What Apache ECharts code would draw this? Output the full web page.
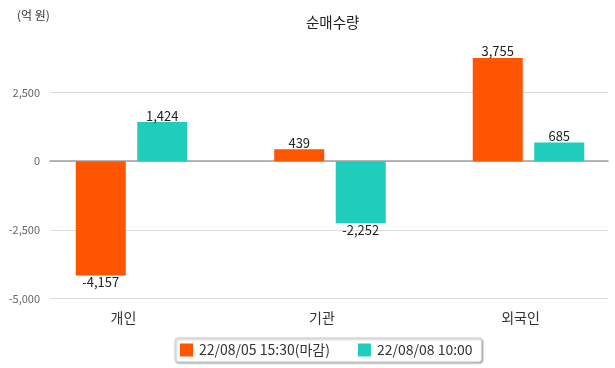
<!DOCTYPE html>
<html>
<head>
<meta charset="utf-8">
<script src="https://cdn.jsdelivr.net/npm/echarts@6/dist/echarts.min.js"></script>
<style>
html,body{margin:0;padding:0;background:#fff;}
#chart{width:615px;height:368px;}
</style>
</head>
<body>
<div id="chart"></div>
<script>
var categories = ['개인', '기관', '외국인'];
var seriesNames = ['22/08/05 15:30(마감)', '22/08/08 10:00'];
var closeValues = [-4157, 439, 3755];
var nowValues = [1424, -2252, 685];
var yTicks = [-5000, -2500, 0, 2500];

var FONT = '"Noto Sans CJK KR", "Noto Sans", sans-serif';
var colors = ['#ff5400', '#1fcdbc'];

function fmt(v) { return v.toLocaleString('en-US'); }
function items(vals) {
  return vals.map(function (v) {
    return { value: v, label: { position: v < 0 ? 'bottom' : 'top' } };
  });
}

var gridTop = 37.5, gridBottom = 69.3;
var chart = echarts.init(document.getElementById('chart'), null, { renderer: 'canvas' });
chart.setOption({
  animation: false,
  textStyle: { fontFamily: FONT },
  title: [
    { text: '순매수량', left: 301, top: 10, textStyle: { fontFamily: FONT, fontSize: 14.5, fontWeight: 'normal', color: '#222' } },
    { text: '(억 원)', left: 12, top: 4, textStyle: { fontFamily: FONT, fontSize: 12, fontWeight: 'normal', color: '#333' } }
  ],
  legend: {
    bottom: 6,
    left: 175,
    data: seriesNames,
    icon: 'rect',
    itemWidth: 13,
    itemHeight: 13,
    itemGap: 28,
    padding: [5, 9, 5, 5],
    textStyle: { fontFamily: FONT, fontSize: 14, color: '#333', padding: [0, 0, 0, 1] },
    backgroundColor: '#fff',
    borderColor: '#cfcfcf',
    borderWidth: 1,
    borderRadius: 3,
    shadowColor: 'rgba(0,0,0,0.35)',
    shadowBlur: 2,
    shadowOffsetX: 1,
    shadowOffsetY: 1
  },
  grid: [
    { left: 50, right: 7, top: gridTop, bottom: gridBottom, outerBoundsMode: 'none' },
    { left: 32.25, width: 595.5, top: gridTop, bottom: gridBottom, outerBoundsMode: 'none' }
  ],
  xAxis: [
    {
      type: 'category', gridIndex: 0, data: categories, offset: 4.6,
      axisLine: { show: true, lineStyle: { color: '#a0a0a0', width: 1.5 } },
      axisTick: { show: false }, axisLabel: { show: false }, splitLine: { show: false }
    },
    {
      type: 'category', gridIndex: 1, data: categories,
      axisLine: { show: false }, axisTick: { show: false },
      axisLabel: { margin: 12, fontFamily: FONT, fontSize: 14, color: '#333', padding: [0, 16, 0, 0] }
    }
  ],
  yAxis: [
    {
      type: 'value', gridIndex: 0, min: yTicks[0], max: 4500, interval: 2500,
      axisLine: { show: false }, axisTick: { show: false },
      axisLabel: {
        showMaxLabel: false, margin: 10, fontFamily: FONT, fontSize: 11, color: '#666',
        formatter: function (v) { return yTicks.indexOf(v) >= 0 ? fmt(v) : ''; }
      },
      splitLine: { show: true, showMaxLine: false, lineStyle: { color: '#dcdcdc', width: 1 } }
    },
    {
      type: 'value', gridIndex: 1, min: yTicks[0], max: 4500, interval: 2500, show: false,
      splitLine: { show: false }
    }
  ],
  series: [
    {
      name: seriesNames[0], type: 'bar', xAxisIndex: 1, yAxisIndex: 1,
      data: items(closeValues), barWidth: 50, barGap: '23%',
      itemStyle: { color: colors[0] },
      label: { show: true, distance: 0, fontFamily: FONT, fontSize: 13, color: '#222', formatter: function (p) { return fmt(p.value); } }
    },
    {
      name: seriesNames[1], type: 'bar', xAxisIndex: 1, yAxisIndex: 1,
      data: items(nowValues), barWidth: 50,
      itemStyle: { color: colors[1] },
      label: { show: true, distance: 0, fontFamily: FONT, fontSize: 13, color: '#222', formatter: function (p) { return fmt(p.value); } }
    }
  ]
});
</script>
</body>
</html>
